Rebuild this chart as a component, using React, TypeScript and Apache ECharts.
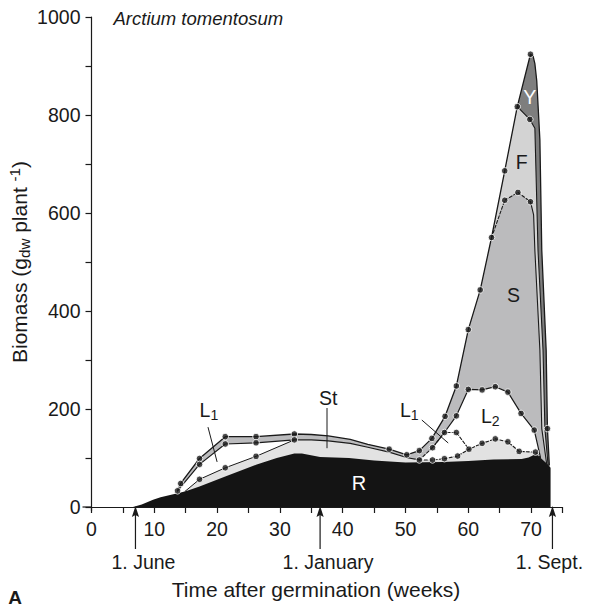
import React, { useEffect, useRef } from "react";
import * as echarts from "echarts";

const FONT = '"Liberation Sans", Arial, Helvetica, sans-serif';

type P = [number, number];

// ---- axis ticks ----
const X_MIN = 0;
const X_MAX = 75;
const X_STEP = 5;
const X_LABEL_STEP = 10;
const Y_MIN = 0;
const Y_MAX = 1000;
const Y_STEP = 100;
const Y_LABEL_STEP = 200;

// ---- boundaries (weeks after germination, g dry weight per plant) ----
// top of roots (R)
const rootTop: P[] = [
  [6.6, 0], [8, 5], [9.8, 15], [11, 20], [13.7, 28], [15, 32], [17.2, 42], [21.3, 62],
  [26.2, 86], [29.5, 100], [32.3, 109], [33.5, 109], [36.4, 102], [41, 100], [45, 95],
  [50, 91], [56, 92], [60, 94], [64, 97], [68.5, 98], [69.6, 101], [70.6, 107], [71.1, 105],
  [72.7, 86], [73.1, 80],
];
// first year: top of St
const stTopYear1: P[] = [[14.9, 32], [17.2, 56.5], [21.3, 80], [26.2, 103.4], [32.3, 137]];
// first year: top of L1 (continues as lower edge of the stem band)
const l1TopYear1: P[] = [
  [13.7, 33], [17.2, 87], [21.3, 128.6], [26.2, 131], [32.3, 137], [35, 137], [37.7, 135],
  [41.2, 130], [44, 122], [47.4, 112], [50.3, 100.5], [52.2, 96],
];
// second year: top of St
const stTopYear2: P[] = [
  [52.2, 96], [54.3, 96], [56.2, 98.6], [58.3, 104], [60.1, 118], [62.2, 130], [64.3, 139],
  [66.3, 133], [68.1, 113.5], [70.7, 112], [71.5, 101],
];
// second year: top of L1
const l1TopYear2: P[] = [[52.2, 96], [54.3, 121], [56.2, 152], [58.1, 152], [60.1, 118]];
// second year: top of L2
const l2Top: P[] = [
  [54.3, 121], [56.2, 152], [58.1, 186], [60, 240], [62.2, 239], [64.3, 245.5], [66.3, 234.5],
  [68.4, 191], [70.5, 157], [71.5, 101],
];
// total biomass (outer envelope), split where S and F start
const totalA: P[] = [
  [13.7, 33], [14.2, 48], [17.2, 99], [21.3, 143.5], [26.2, 143.5], [32.3, 149], [35, 148],
  [37.7, 145], [41.2, 138], [44, 128], [47.4, 118], [50.2, 106.5], [52.2, 115], [54.2, 140],
  [56.3, 185], [58.1, 247], [60, 362], [61.9, 443], [63.7, 550],
];
const totalB: P[] = [[65.8, 686], [67.8, 817]];
const totalC: P[] = [
  [69.9, 924], [70.3, 921], [70.6, 905], [70.9, 870], [71.4, 749], [71.7, 524], [72.4, 320],
  [72.6, 160], [72.9, 86],
];
// top of S (after it separates from the envelope)
const sTop: P[] = [
  [65.8, 626], [67.9, 642], [69.9, 623], [70.4, 596], [70.6, 524], [71.4, 320], [71.7, 160],
  [72.5, 86],
];
// top of F (after it separates from the envelope)
const fTop: P[] = [[69.8, 791], [70.6, 773], [71.1, 524], [71.9, 320], [72.2, 160], [72.7, 86]];

// ---- measured points (dots) ----
const dotsTotal: P[] = [
  [14.2, 48], [17.2, 99], [21.3, 143.5], [26.2, 143.5], [32.3, 149], [47.4, 118], [50.2, 106.5],
  [52.2, 115], [54.2, 140], [56.3, 185], [58.1, 247], [60, 362], [61.9, 443], [63.7, 550],
  [65.8, 686], [67.8, 817], [69.9, 924], [72.6, 160],
];
const dotsL1Year1: P[] = [[13.7, 33], [17.2, 87], [21.3, 128.6], [26.2, 131], [32.3, 137]];
const dotsStYear1: P[] = [[17.2, 56.5], [21.3, 80], [26.2, 103.4]];
const dotsStYear2: P[] = [
  [52.2, 96], [54.3, 96], [56.2, 98.6], [58.3, 104], [60.1, 118], [62.2, 130], [64.3, 139],
  [66.3, 133], [68.1, 113.5], [70.7, 112],
];
const dotsL1Year2: P[] = [[54.3, 121], [56.2, 152], [58.1, 152]];
const dotsL2: P[] = [
  [58.1, 186], [60, 240], [62.2, 239], [64.3, 245.5], [66.3, 234.5], [68.4, 191], [70.5, 157],
];
const dotsS: P[] = [[65.8, 626], [67.9, 642], [69.9, 623]];
const dotsF: P[] = [[69.8, 791]];

// ---- calendar markers (weeks) ----
const markerWeeks = [7, 36.4, 73.4];
const markerNames = ["1. June", "1. January", "1. Sept."];

// ---- colours ----
const C_Y = "#7e7e7e";
const C_F = "#d3d3d3";
const C_S = "#bbbbbd";
const C_L = "#ffffff";
const C_ST = "#e2e2e2";
const C_R = "#141414";
const INK = "#1a1a1a";

function fill(data: P[], color: string) {
  return {
    type: "line",
    data,
    symbol: "none",
    smooth: false,
    lineStyle: { width: 0, opacity: 0 },
    areaStyle: { color, opacity: 1 },
    z: 2,
    silent: true,
  };
}
function stroke(data: P[], width: number, dashed = false) {
  return {
    type: "line",
    data,
    symbol: "none",
    smooth: false,
    lineStyle: { width, color: INK, type: dashed ? [3, 2] : "solid", cap: "round", join: "round" },
    z: 3,
    silent: true,
  };
}
function dots(data: P[]) {
  return {
    type: "scatter",
    data,
    symbol: "circle",
    symbolSize: 6.5,
    itemStyle: { color: INK, borderColor: "#ffffff", borderWidth: 1 },
    z: 4,
    silent: true,
  };
}

export default function App() {
  const ref = useRef<HTMLDivElement>(null);

  useEffect(() => {
    const el = ref.current;
    if (!el) return;
    const chart = echarts.init(el, null, { renderer: "svg" });

    const totalAll = [...totalA, ...totalB, ...totalC];
    const fFill = [...totalA, ...totalB, ...fTop];
    const sFill = [...totalA, ...sTop];
    const lFill = [...l1TopYear1, ...l1TopYear2.slice(1, 3), ...l2Top.slice(2)];
    const stFill = [...stTopYear1, ...l1TopYear1.slice(5), ...stTopYear2.slice(1)];

    const option: any = {
      animation: false,
      backgroundColor: "#ffffff",
      textStyle: { fontFamily: FONT },
      grid: { left: 91.5, right: 26.5, top: 17, bottom: 100, outerBoundsMode: "none" },
      xAxis: {
        type: "value",
        min: X_MIN,
        max: X_MAX,
        interval: X_STEP,
        splitLine: { show: false },
        axisLine: { onZero: false, lineStyle: { color: INK, width: 1.2 } },
        axisTick: { inside: false, length: 6, lineStyle: { color: INK, width: 1.2 } },
        axisLabel: {
          margin: 12,
          color: INK,
          fontSize: 19.5,
          fontFamily: FONT,
          formatter: (v: number) => (v % X_LABEL_STEP === 0 && v <= 70 ? String(v) : ""),
        },
      },
      yAxis: {
        type: "value",
        min: Y_MIN,
        max: Y_MAX,
        interval: Y_STEP,
        splitLine: { show: false },
        axisLine: { show: true, onZero: false, lineStyle: { color: INK, width: 1.2 } },
        axisTick: { show: true, inside: false, length: 6, lineStyle: { color: INK, width: 1.2 } },
        axisLabel: {
          margin: 11,
          color: INK,
          fontSize: 19.5,
          fontFamily: FONT,
          formatter: (v: number) => (v % Y_LABEL_STEP === 0 ? String(v) : ""),
        },
      },
      series: [
        fill(totalAll, C_Y),
        fill(fFill, C_F),
        fill(sFill, C_S),
        fill(lFill, C_L),
        fill(stFill, C_ST),
        fill(rootTop, C_R),
        stroke(totalAll, 1.3),
        stroke(l1TopYear1, 1.2),
        stroke(stTopYear1, 1.0),
        stroke(stTopYear2, 1.1, true),
        stroke(l1TopYear2, 1.1, true),
        stroke(l2Top, 1.2),
        stroke([totalA[totalA.length - 1], ...sTop.slice(0, 3)], 1.1, true),
        stroke(sTop.slice(2), 1.1),
        stroke([totalB[totalB.length - 1], ...fTop], 1.1),
        dots(dotsTotal),
        dots(dotsL1Year1),
        dots(dotsStYear1),
        dots(dotsStYear2),
        dots(dotsL1Year2),
        dots(dotsL2),
        dots(dotsS),
        dots(dotsF),
      ],
    };
    chart.setOption(option);

    const px = (w: number, v: number) => chart.convertToPixel({ gridIndex: 0 }, [w, v]) as number[];
    const [x0, y0] = px(0, 0);
    const [, yTop] = px(0, Y_MAX);

    const txt = (x: number, y: number, text: string, size: number, color = INK, extra: any = {}) => ({
      type: "text",
      x,
      y,
      z: 100,
      silent: true,
      style: {
        text,
        fill: color,
        fontSize: size,
        fontFamily: FONT,
        align: "center",
        verticalAlign: "middle",
        textAlign: "center",
        textVerticalAlign: "middle",
        ...extra,
      },
    });
    const subRich = (size: number, color = INK) => ({
      m: { fontSize: size, lineHeight: size + 4, fontFamily: FONT, fill: color, color },
      s: { fontSize: size * 0.72, lineHeight: size * 0.72, fontFamily: FONT, verticalAlign: "bottom", fill: color, color },
      p: { fontSize: size * 0.72, lineHeight: size * 0.72, fontFamily: FONT, verticalAlign: "top", fill: color, color },
    });
    const line = (x1: number, y1: number, x2: number, y2: number, w = 1) => ({
      type: "line",
      z: 100,
      silent: true,
      shape: { x1, y1, x2, y2 },
      style: { stroke: INK, lineWidth: w },
    });

    const g: any[] = [];
    // axis line extensions
    g.push(line(x0 - 9, y0, x0, y0, 1.2));
    g.push(line(x0, y0, x0, y0 + 4, 1.2));

    // in-plot labels (anchored to data coordinates)
    const at = (w: number, v: number) => px(w, v);
    let p = at(42.6, 48);
    g.push(txt(p[0], p[1], "R", 20, "#ffffff"));
    p = at(37.7, 222);
    g.push(txt(p[0], p[1], "St", 19.5));
    let a = at(37.5, 202), b = at(37.5, 120);
    g.push(line(a[0], a[1], b[0], b[1], 1));
    p = at(18.7, 198);
    g.push(txt(p[0], p[1], "{m|L}{s|1}", 19.5, INK, { rich: subRich(19.5) }));
    a = at(18.55, 163); b = at(20, 92);
    g.push(line(a[0], a[1], b[0], b[1], 1));
    p = at(50.6, 198);
    g.push(txt(p[0], p[1], "{m|L}{s|1}", 19.5, INK, { rich: subRich(19.5) }));
    a = at(52.6, 177.5); b = at(56.8, 130.6);
    g.push(line(a[0], a[1], b[0], b[1], 1));
    p = at(63.5, 186);
    g.push(txt(p[0], p[1], "{m|L}{s|2}", 19.5, INK, { rich: subRich(19.5) }));
    p = at(67.2, 433);
    g.push(txt(p[0], p[1], "S", 19.5));
    p = at(68.5, 705);
    g.push(txt(p[0], p[1], "F", 19.5));
    p = at(69.8, 837);
    g.push(txt(p[0], p[1], "Y", 19.5, "#ffffff"));

    // species name
    g.push(txt(x0 + 22, yTop + 1, "Arctium tomentosum", 18.5, INK, { align: "left", textAlign: "left", fontStyle: "italic" }));

    // calendar arrows
    markerWeeks.forEach((w, i) => {
      const [mx] = px(w, 0);
      g.push(line(mx, y0 + 7, mx, y0 + 42, 1.2));
      g.push({
        type: "polygon",
        z: 100,
        silent: true,
        shape: { points: [[mx, y0 - 1], [mx - 3.6, y0 + 10], [mx, y0 + 8], [mx + 3.6, y0 + 10]] },
        style: { fill: INK },
      });
      const dx = i === 2 ? -3 : 8;
      g.push(txt(mx + dx, y0 + 55, markerNames[i], 19.5));
    });

    // axis titles
    g.push(txt(316, 589, "Time after germination (weeks)", 21));
    g.push(txt(15, 597, "A", 19, INK, { fontWeight: "bold" }));
    g.push({
      type: "text",
      x: 19,
      y: 262,
      rotation: Math.PI / 2,
      z: 100,
      silent: true,
      style: {
        text: "{m|Biomass (g}{s|dw}{m| plant }{p|-1}{m|)}",
        rich: subRich(21),
        fill: INK,
        fontSize: 21,
        fontFamily: FONT,
        align: "center",
        verticalAlign: "middle",
        textAlign: "center",
        textVerticalAlign: "middle",
      },
    });

    chart.setOption({ graphic: g });

    return () => {
      chart.dispose();
    };
  }, []);

  return (
    <div
      ref={ref}
      style={{ position: "fixed", left: 0, top: 0, width: 589, height: 607, background: "#fff" }}
    />
  );
}
